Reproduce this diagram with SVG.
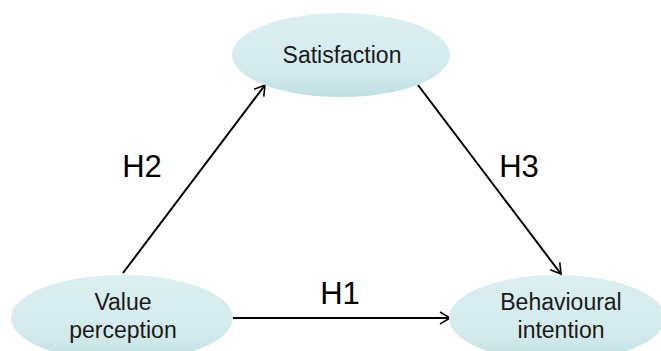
<svg xmlns="http://www.w3.org/2000/svg" width="661" height="351" viewBox="0 0 661 351">
<defs>
<linearGradient id="g" x1="0" y1="0" x2="0" y2="1">
<stop offset="0" stop-color="#dceff1"/>
<stop offset="0.7" stop-color="#d3eaec"/>
<stop offset="1" stop-color="#bfdfe2"/>
</linearGradient>
<marker id="arr" markerWidth="14" markerHeight="14" refX="11" refY="7" orient="auto" markerUnits="userSpaceOnUse">
<path d="M1,1 L11,7 L1,13" fill="none" stroke="#000" stroke-width="1.6"/>
</marker>
</defs>
<style>
.n{fill:url(#g);}
.t{font-family:"Liberation Sans",Arial,sans-serif;font-size:23px;fill:#1a1a1a;text-anchor:middle;}
.h{font-family:"Liberation Sans",Arial,sans-serif;font-size:31px;fill:#000;text-anchor:middle;}
.c{stroke:#000;stroke-width:2;fill:none;marker-end:url(#arr);}
</style>
<rect width="661" height="351" fill="#fff"/>
<g id="connectors">
<line class="c" x1="123" y1="273" x2="265" y2="85"/>
<line class="c" x1="418" y1="85" x2="561" y2="274"/>
<line class="c" x1="233" y1="318" x2="450" y2="318"/>
</g>
<g id="satisfaction">
<ellipse class="n" cx="341" cy="55" rx="109" ry="42"/>
<text class="t" x="342" y="63">Satisfaction</text>
</g>
<g id="value-perception">
<ellipse class="n" cx="122" cy="318" rx="111" ry="43"/>
<text class="t" x="123" y="310">Value</text>
<text class="t" x="123" y="338">perception</text>
</g>
<g id="behavioural-intention">
<ellipse class="n" cx="557" cy="318" rx="108" ry="43"/>
<text class="t" x="561" y="310">Behavioural</text>
<text class="t" x="561" y="338">intention</text>
</g>
<g id="labels">
<text class="h" x="142" y="177">H2</text>
<text class="h" x="519" y="177">H3</text>
<text class="h" x="340" y="304">H1</text>
</g>
</svg>
